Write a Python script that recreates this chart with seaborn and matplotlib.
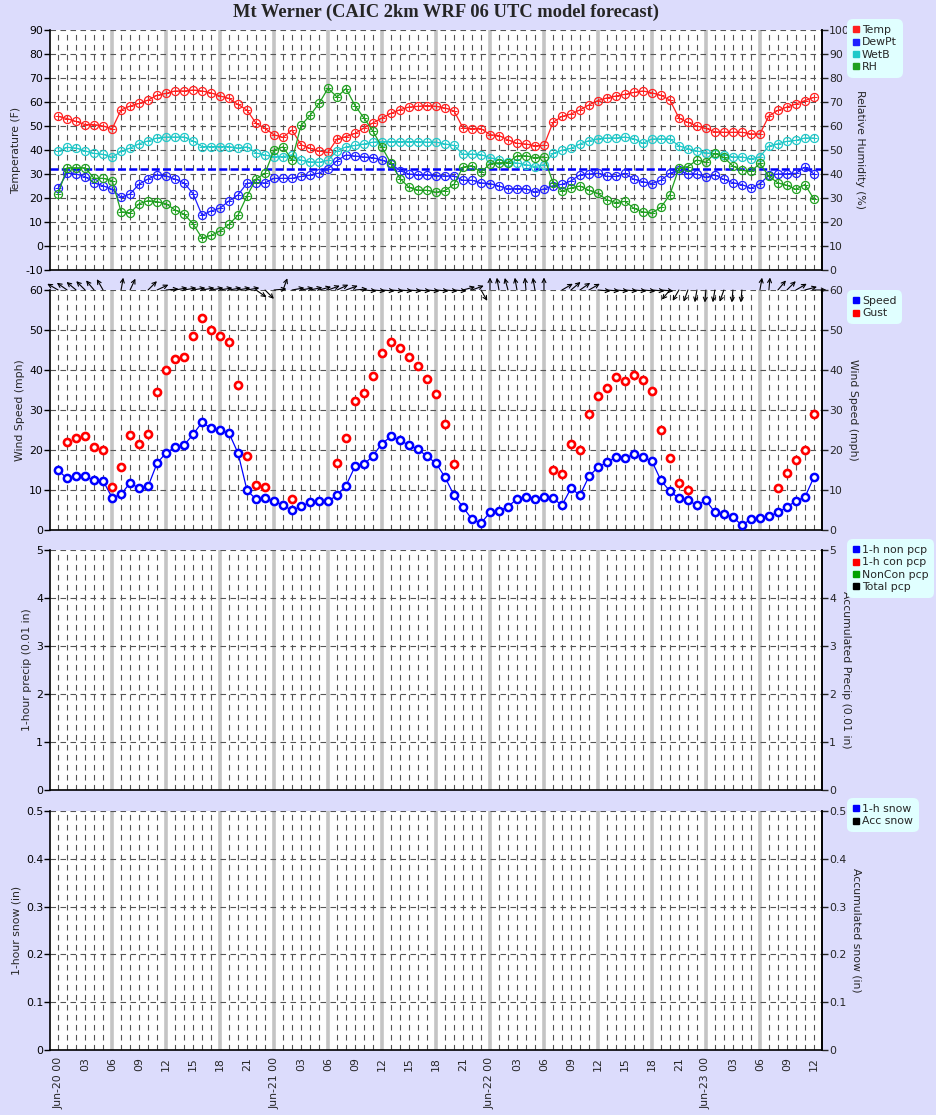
import numpy as np
import pandas as pd
import matplotlib
matplotlib.use("Agg")
import matplotlib.pyplot as plt
import matplotlib.transforms as mtransforms
import seaborn as sns
from matplotlib.lines import Line2D
from matplotlib.ticker import FormatStrFormatter

sns.set_style("white")
plt.rcParams["font.family"] = ["DejaVu Sans"]

# ---------------- data (hourly, Jun-20 00 .. Jun-23 12) ----------------
hours = np.arange(85)
temp = [54.0, 53.1, 51.9, 50.6, 50.6, 50.0, 48.8, 56.7, 58.3, 59.4, 60.8, 62.8, 63.6, 64.6, 64.6, 65.0,
        64.6, 63.8, 62.5, 61.5, 59.0, 56.6, 51.1, 49.0, 46.3, 45.3, 48.3, 42.2, 40.7, 39.6, 39.0, 44.6,
        45.6, 46.9, 49.2, 51.3, 53.3, 55.3, 56.8, 57.9, 58.2, 58.5, 58.2, 57.5, 56.3, 49.2, 48.9, 48.9,
        46.4, 46.0, 44.2, 42.8, 42.5, 41.8, 41.9, 51.5, 54.0, 55.0, 56.7, 58.8, 60.6, 61.7, 62.5, 63.2,
        64.0, 64.6, 63.8, 62.8, 60.8, 53.3, 51.5, 50.0, 49.0, 47.6, 47.4, 47.4, 47.4, 46.7, 46.7, 54.2,
        56.5, 57.9, 59.2, 60.6, 61.9]
dewpt = [24.0, 30.3, 30.0, 28.9, 26.3, 25.1, 23.6, 20.3, 21.7, 25.8, 27.9, 29.7, 29.2, 27.9, 26.3, 21.8,
         12.8, 14.6, 15.8, 18.8, 21.3, 26.2, 26.4, 26.3, 28.2, 28.2, 28.2, 29.0, 29.6, 30.4, 32.1, 35.6,
         37.9, 37.5, 37.1, 36.8, 35.8, 34.2, 31.4, 30.0, 29.7, 29.7, 29.3, 29.2, 29.2, 27.4, 27.4, 26.3,
         26.0, 25.0, 23.8, 23.9, 23.8, 22.5, 23.8, 25.1, 25.7, 27.1, 29.7, 30.0, 30.3, 29.0, 29.0, 30.3,
         27.8, 26.8, 26.0, 27.4, 30.3, 31.5, 30.0, 30.0, 28.6, 29.6, 27.8, 26.4, 25.6, 24.0, 26.0, 29.4,
         30.0, 30.1, 30.3, 32.8, 30.0]
wetb = [39.4, 41.1, 40.8, 39.6, 38.6, 38.2, 36.9, 39.4, 40.8, 42.6, 43.8, 45.0, 45.4, 45.4, 45.4, 43.8,
        41.4, 41.4, 41.4, 41.4, 40.8, 41.3, 38.8, 37.9, 37.2, 37.2, 38.0, 35.7, 35.1, 34.9, 35.7, 39.7,
        41.3, 41.9, 42.5, 43.3, 43.5, 43.5, 43.5, 43.5, 43.5, 43.3, 43.3, 42.5, 41.9, 38.2, 38.3, 38.1,
        36.8, 36.0, 34.9, 34.6, 33.9, 33.1, 33.9, 38.6, 39.9, 40.7, 42.5, 43.9, 44.7, 45.0, 45.0, 45.4,
        44.7, 42.8, 44.6, 44.6, 44.6, 41.7, 40.6, 39.6, 38.8, 38.5, 38.1, 37.1, 37.1, 36.3, 37.2, 41.7,
        42.6, 43.6, 44.0, 45.0, 45.0]
rh = [31.7, 42.6, 42.6, 42.6, 38.2, 38.2, 37.2, 24.3, 23.8, 27.6, 28.9, 28.5, 27.6, 25.0, 23.3, 19.2,
      13.3, 14.4, 16.3, 19.0, 22.9, 30.9, 37.9, 40.3, 50.0, 51.3, 45.8, 60.3, 64.4, 69.4, 75.7, 72.1,
      75.6, 68.5, 63.3, 57.8, 51.1, 44.4, 38.1, 34.4, 33.3, 33.2, 32.4, 33.1, 35.7, 42.9, 43.5, 40.7,
      44.3, 44.7, 44.7, 47.6, 47.6, 46.8, 47.2, 36.4, 32.9, 34.2, 35.0, 33.2, 31.9, 29.2, 28.1, 28.6,
      25.7, 24.2, 23.8, 26.1, 31.4, 42.5, 43.1, 45.8, 44.9, 48.6, 46.9, 43.3, 41.5, 41.1, 44.4, 39.0,
      36.3, 35.3, 33.6, 35.6, 29.6]
freezing = 32
speed = [14.9, 12.9, 13.4, 13.4, 12.4, 12.3, 8.1, 8.9, 11.8, 10.4, 10.9, 16.7, 19.3, 20.7, 21.2, 23.9,
         26.9, 25.4, 24.9, 24.2, 19.2, 9.9, 7.7, 7.9, 7.2, 6.2, 4.9, 5.9, 6.9, 7.2, 7.2, 8.7,
         11.1, 15.9, 16.4, 18.6, 21.6, 23.4, 22.4, 21.2, 20.2, 18.4, 16.7, 13.2, 8.7, 5.7, 2.7, 1.7,
         4.4, 4.8, 5.8, 7.8, 8.2, 7.8, 8.2, 7.9, 6.2, 10.4, 8.7, 13.4, 15.7, 16.9, 18.2, 17.9,
         19.0, 18.2, 17.2, 12.4, 9.7, 7.9, 7.4, 6.2, 7.4, 4.4, 3.9, 3.2, 1.2, 2.7, 2.9, 3.4,
         4.4, 5.7, 7.3, 8.2, 13.2]
nan = np.nan
gust = [nan, 21.9, 23.1, 23.4, 20.7, 19.9, 10.7, 15.7, 23.7, 21.6, 23.9, 34.4, 39.9, 42.7, 43.2, 48.4,
        52.9, 49.9, 48.4, 46.9, 36.2, 18.4, 11.2, 10.7, nan, nan, 7.7, nan, nan, nan, nan, 16.7,
        22.9, 32.2, 34.2, 38.4, 44.2, 46.9, 45.4, 43.2, 40.9, 37.7, 33.9, 26.4, 16.4, nan, nan, nan,
        nan, nan, nan, nan, nan, nan, nan, 14.9, 13.9, 21.4, 19.9, 28.9, 33.4, 35.4, 38.2, 37.2,
        38.7, 37.4, 34.7, 24.9, 17.9, 11.7, 9.9, nan, nan, nan, nan, nan, nan, nan, nan, nan,
        10.4, 14.2, 17.4, 19.9, 28.9]
# wind arrow direction on the chart (degrees, 0 = pointing right, 90 = up)
arrow_dir = [150, 145, 140, 135, 130, 120, nan, 80, 65, nan, 45, 25, 5, 10, 10, 10,
             10, 10, 10, 10, 10, 10, -35, -45, 5, 70, 10, 10, 12, 15, 20, 25,
             20, 5, -5, -5, -5, -5, -5, -5, -5, -5, -5, -5, -5, 15, 20, -60,
             90, 100, 105, 100, 95, 100, 90, nan, 30, 40, 35, 30, -5, -5, -5, -5,
             -5, -5, -5, -5, -130, -120, -110, -100, -95, -100, -110, -95, -95, nan, 80, 85,
             50, 45, 30, 15, 0]

title = "Mt Werner (CAIC 2km WRF 06 UTC model forecast)"
temp_names = ["Temp", "DewPt", "WetB", "RH"]
temp_colors = ["#ff2020", "#2020ff", "#20c8c8", "#20a020"]
wind_names = ["Speed", "Gust"]
wind_colors = ["#0000ff", "#ff0000"]
pcp_names = ["1-h non pcp", "1-h con pcp", "NonCon pcp", "Total pcp"]
pcp_colors = ["#0000ff", "#ff0000", "#00a000", "#000000"]
snow_names = ["1-h snow", "Acc snow"]
snow_colors = ["#0000ff", "#000000"]

# ---------------- figure ----------------
BG = "#dcdcfc"
W_PX, H_PX = 937, 1115
fig = plt.figure(figsize=(W_PX / 100, H_PX / 100), dpi=100, facecolor=BG)
LEFT, RIGHT = 50, 822


def add_ax(top, bottom):
    return fig.add_axes([LEFT / W_PX, 1 - bottom / H_PX, (RIGHT - LEFT) / W_PX, (bottom - top) / H_PX])


FS = 7.8


def style(ax, ylim, yticks, right_ylim, right_ticks, left_label, right_label, fmt="%g"):
    ax.set_facecolor("white")
    ax.set_xlim(-0.9, 84.9)
    ax.set_ylim(*ylim)
    six = [h for h in hours if h % 6 == 0 and 0 < h < 84]
    other = [h for h in hours if not (h % 6 == 0 and 0 < h < 84)]
    ax.vlines(six, ylim[0], ylim[1], color="#c4c4c4", lw=2.6, zorder=0.5)
    ax.vlines(other, ylim[0], ylim[1], color="#555555", lw=0.8, linestyles=(0, (5, 4)), zorder=0.6)
    ax.hlines(yticks[1:], -0.9, 84.9, color="#555555", lw=0.8, linestyles=(0, (5, 4)), zorder=0.6)
    ax.set_yticks(yticks)
    ax.yaxis.set_major_formatter(FormatStrFormatter(fmt))
    ax.set_xticks(hours)
    ax.set_xticklabels([])
    ax.tick_params(axis="y", direction="out", length=4, width=1, labelsize=FS, pad=1, colors="black")
    ax.tick_params(axis="x", direction="inout", length=6, width=0.9)
    for s in ["left", "right", "bottom"]:
        ax.spines[s].set_visible(True)
        ax.spines[s].set_color("black")
        ax.spines[s].set_linewidth(1.2)
    ax.spines["top"].set_visible(False)
    ax.set_ylabel(left_label, fontsize=FS, labelpad=3)
    tw = ax.twinx()
    tw.set_ylim(*right_ylim)
    tw.set_yticks(right_ticks)
    tw.yaxis.set_major_formatter(FormatStrFormatter(fmt))
    tw.tick_params(axis="y", direction="out", length=4, width=1, labelsize=FS, pad=1)
    for s in ["left", "top", "bottom"]:
        tw.spines[s].set_visible(False)
    tw.spines["right"].set_color("black")
    tw.spines["right"].set_linewidth(1.2)
    tw.set_ylabel(right_label, fontsize=FS, rotation=270, va="bottom", labelpad=4)
    return tw


def legend(ax, names, colors, top_px):
    handles = [Line2D([], [], marker="s", ls="none", color=c, markeredgecolor=c, markersize=4.0)
               for c in colors]
    leg = ax.legend(handles, names, loc="upper left",
                    bbox_to_anchor=(850 / W_PX, 1 - top_px / H_PX), bbox_transform=fig.transFigure,
                    borderaxespad=0, frameon=True, fancybox=True, facecolor="#e0ffff", edgecolor="none",
                    framealpha=1, fontsize=FS, handlelength=0.5, handletextpad=0.3,
                    labelspacing=0.2, borderpad=0.3)
    leg.get_frame().set_boxstyle("round,pad=0.25,rounding_size=0.5")
    return leg


# ---- panel 1: temperature ----
ax1 = add_ax(30, 270)
tw1 = style(ax1, (-10, 90), list(range(-10, 91, 10)), (0, 100), list(range(0, 101, 10)),
            "Temperature (F)", "Relative Humidity (%)")
ax1.axhline(freezing, color="#0000ff", lw=1.8, ls=(0, (3.2, 1.3)), zorder=2)
for series, c in zip([temp, dewpt, wetb], temp_colors[:3]):
    sns.lineplot(x=hours, y=series, ax=ax1, color=c, lw=0.9, marker="o", markersize=5.8,
                 markerfacecolor="none", markeredgecolor=c, markeredgewidth=0.9, errorbar=None,
                 legend=False, zorder=3)
    sns.scatterplot(x=hours, y=series, ax=ax1, marker="+", s=24, color=c, linewidth=0.7, legend=False,
                    zorder=3)
sns.lineplot(x=hours, y=rh, ax=tw1, color=temp_colors[3], lw=0.9, marker="o", markersize=5.8,
             markerfacecolor="none", markeredgecolor=temp_colors[3], markeredgewidth=0.9, errorbar=None,
             legend=False, zorder=3)
sns.scatterplot(x=hours, y=rh, ax=tw1, marker="+", s=24, color=temp_colors[3], linewidth=0.7,
                legend=False, zorder=3)
tw1.set_ylim(0, 100)
legend(tw1, temp_names, temp_colors, 22)

# ---- panel 2: wind ----
ax2 = add_ax(290, 530)
tw2 = style(ax2, (0, 60), list(range(0, 61, 10)), (0, 60), list(range(0, 61, 10)),
            "Wind Speed (mph)", "Wind Speed (mph)")
sns.lineplot(x=hours, y=speed, ax=ax2, color=wind_colors[0], lw=0.9, marker="o", markersize=5.2,
             markerfacecolor="white", markeredgecolor=wind_colors[0], markeredgewidth=1.8, errorbar=None,
             legend=False, zorder=3)
sns.scatterplot(x=hours, y=gust, ax=ax2, marker="o", s=26, color="white", edgecolor=wind_colors[1],
                linewidth=1.9, legend=False, zorder=3)
ax2.set_ylim(0, 60)
ARROW_PT = 9.0
for h, d in zip(hours, arrow_dir):
    if np.isnan(d):
        continue
    r = np.deg2rad(d)
    head = mtransforms.offset_copy(ax2.transData, fig=fig, x=ARROW_PT * np.cos(r),
                                   y=ARROW_PT * np.sin(r), units="points")
    ax2.annotate("", xy=(h, 60), xycoords=head, xytext=(h, 60), textcoords=ax2.transData,
                 arrowprops=dict(arrowstyle="->", lw=0.8, color="black", shrinkA=0, shrinkB=0,
                                 mutation_scale=7),
                 annotation_clip=False, zorder=6)
legend(tw2, wind_names, wind_colors, 293)

# ---- panel 3: precip ----
ax3 = add_ax(550, 790)
tw3 = style(ax3, (0, 5), list(range(0, 6)), (0, 5), list(range(0, 6)),
            "1-hour precip (0.01 in)", "Accumulated Precip (0.01 in)")
legend(tw3, pcp_names, pcp_colors, 542)

# ---- panel 4: snow ----
ax4 = add_ax(811, 1050)
snow_ticks = [0, 0.1, 0.2, 0.3, 0.4, 0.5]
tw4 = style(ax4, (0, 0.5), snow_ticks, (0, 0.5), snow_ticks,
            "1-hour snow (in)", "Accumulated snow (in)")
legend(tw4, snow_names, snow_colors, 801)

labels = []
for h in hours:
    if h % 3:
        labels.append("")
    elif h % 24 == 0:
        labels.append(f"Jun-{20 + h // 24} 00")
    else:
        labels.append(f"{h % 24:02d}")
ax4.set_xticklabels(labels, rotation=90, fontsize=FS)
ax4.tick_params(axis="x", pad=2)

fig.text(446 / W_PX, 1 - 12 / H_PX, title, ha="center", va="center", fontsize=13.3,
         fontweight="bold", family="Liberation Serif")

fig.savefig("out.png", dpi=100, facecolor=BG)
